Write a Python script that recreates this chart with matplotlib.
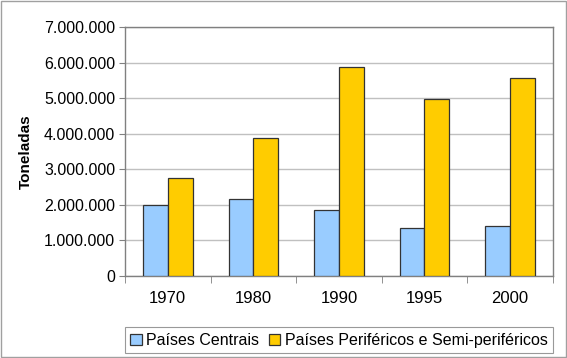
import numpy as np
import matplotlib.pyplot as plt
from matplotlib.ticker import FuncFormatter

# -----------------------------
# Data
# -----------------------------
years = ["1970", "1980", "1990", "1995", "2000"]
centrais = [2000000, 2160000, 1850000, 1350000, 1400000]
perifericos = [2750000, 3880000, 5870000, 4970000, 5560000]
series_labels = ["Países Centrais", "Países Periféricos e Semi-periféricos"]

plt.rcParams['font.family'] = ['Liberation Sans', 'DejaVu Sans']

fig = plt.figure(figsize=(5.67, 3.58), dpi=100)
ax = fig.add_axes([0.2205, 0.229, 0.7545, 0.6956])

x = np.arange(len(years))
w = 0.29
ax.bar(x - w / 2, centrais, w, color='#99CCFF', edgecolor='#333333',
       linewidth=0.9, label=series_labels[0], zorder=3)
ax.bar(x + w / 2, perifericos, w, color='#FFCC00', edgecolor='#333333',
       linewidth=0.9, label=series_labels[1], zorder=3)

ax.set_xlim(-0.5, len(years) - 0.5)
ax.set_ylim(0, 7000000)
ax.set_yticks(np.arange(0, 7000001, 1000000))
ax.yaxis.set_major_formatter(
    FuncFormatter(lambda v, p: f"{int(v):,}".replace(",", ".")))
ax.grid(True, axis='y', color='#c0c0c0', linewidth=1, zorder=0)

# category labels centred, tick marks between categories
ax.set_xticks(x)
ax.set_xticklabels(years)
ax.tick_params(axis='x', length=0, pad=11, labelsize=12)
ax.set_xticks(np.arange(-0.5, len(years)), minor=True)
ax.tick_params(axis='x', which='minor', length=5, color='#808080')
ax.tick_params(axis='y', length=4, color='#808080', labelsize=11.5, pad=3)

for s in ax.spines.values():
    s.set_color('#808080')
    s.set_linewidth(1)

ax.set_ylabel("Toneladas", fontsize=11, fontweight='bold', labelpad=8)

leg = fig.legend(loc='lower center', bbox_to_anchor=(0.598, 0.013), ncol=2,
                 fontsize=11.5, frameon=True, fancybox=False, edgecolor='#808080',
                 handlelength=0.7, handleheight=0.7, handletextpad=0.3,
                 columnspacing=0.6, borderpad=0.35, borderaxespad=0)
leg.get_frame().set_linewidth(0.8)

# outer border of the picture
fig.patches.append(plt.Rectangle((0.002, 0.003), 0.996, 0.994, transform=fig.transFigure,
                                 fill=False, edgecolor='#a0a0a0', linewidth=1))

fig.savefig("out.png", dpi=100)
